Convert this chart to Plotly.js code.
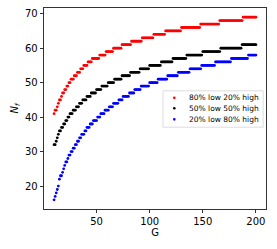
<!DOCTYPE html>
<html>
<head>
<meta charset="utf-8">
<script src="https://cdn.plot.ly/plotly-3.0.1.min.js"></script>
<style>
html,body{margin:0;padding:0;background:#fff;}
#chart{width:277px;height:249px;}
</style>
</head>
<body>
<div id="chart"></div>
<script>
// Data (step values of N_f, given as level + first G of that level)
const gLast = 200;

const seriesNames = ["80% low 20% high", "50% low 50% high", "20% low 80% high"];
const seriesColors = ["#ff0000", "#000000", "#0000ff"];

const redLevels = [41,42,43,44,45,46,47,48,49,50,51,52,53,54,55,56,57,58,59,60,61,62,63,64,65,66,67,68,69];
const redStarts = [10,11,13,14,15,17,18,20,22,24,26,29,32,35,38,42,46,53,59,66,74,83,93,104,115,130,148,166,188];

const blackLevels = [32,33,34,35,36,37,38,39,40,41,42,43,44,45,46,47,48,49,50,51,52,53,54,55,56,57,58,59,60,61];
const blackStarts = [10,12,13,14,15,17,19,21,23,25,28,31,34,37,41,45,50,55,61,67,74,82,91,100,111,122,135,150,167,187];

const blueLevels = [16,17,18,19,20,22,23,24,25,26,27,28,29,30,31,32,33,34,35,36,37,38,39,40,41,42,43,44,45,46,47,48,49,50,51,52,53,54,55,56,57,58];
const blueStarts = [10,11,12,13,14,15,16,18,19,20,21,23,24,26,28,30,32,34,36,39,41,44,47,51,54,58,62,66,71,75,81,86,92,100,108,117,127,138,149,162,177,193];

const xTicks = [50,100,150,200];
const yTicks = [20,30,40,50,60,70];

function expand(levels, starts){
  const xs = [], ys = [];
  for (let i = 0; i < levels.length; i++){
    const end = (i + 1 < starts.length) ? starts[i+1] - 1 : gLast;
    for (let g = starts[i]; g <= end; g++){ xs.push(g); ys.push(levels[i]); }
  }
  return {xs, ys};
}

const sets = [[redLevels, redStarts],[blackLevels, blackStarts],[blueLevels, blueStarts]];
const traces = sets.map((s, i) => {
  const d = expand(s[0], s[1]);
  return {
    type: 'scatter', mode: 'markers', x: d.xs, y: d.ys, name: seriesNames[i],
    marker: {color: seriesColors[i], size: 2.8, symbol: 'circle', line: {width: 0}},
    hoverinfo: 'skip', showlegend: false
  };
});

const font = {family: 'DejaVu Sans, sans-serif', size: 10, color: '#000'};
const legendFont = {family: 'DejaVu Sans, sans-serif', size: 7.5, color: '#000'};
const axisCommon = {
  showgrid: false, zeroline: false, showline: true, linecolor: '#000', linewidth: 0.8,
  mirror: true, ticks: 'outside', ticklen: 3.5, tickwidth: 0.8, tickcolor: '#000',
  tickfont: font
};

// Legend box (matplotlib style) built from shapes + annotations
const legBox = {x0: 0.536, x1: 0.987, y0: 0.407, y1: 0.588};
const legRows = [0.553, 0.501, 0.446];
const legMarkX = 0.587;
const legTextX = 0.648;

const shapes = [{
  type: 'rect', xref: 'paper', yref: 'paper',
  x0: legBox.x0, x1: legBox.x1, y0: legBox.y0, y1: legBox.y1,
  line: {color: '#d4d4d4', width: 0.8}, fillcolor: 'rgba(255,255,255,0.8)', layer: 'above'
}];
const annotations = [];
seriesNames.forEach((name, i) => {
  shapes.push({
    type: 'circle', xref: 'paper', yref: 'paper', xsizemode: 'pixel', ysizemode: 'pixel',
    xanchor: legMarkX, yanchor: legRows[i], x0: -1.3, x1: 1.3, y0: -1.3, y1: 1.3,
    fillcolor: seriesColors[i], line: {width: 0}, layer: 'above'
  });
  annotations.push({
    xref: 'paper', yref: 'paper', x: legTextX, y: legRows[i], xanchor: 'left', yanchor: 'middle',
    text: name, showarrow: false, font: legendFont, borderpad: 0
  });
});

const layout = {
  width: 277, height: 249,
  margin: {l: 44, r: 11, t: 8, b: 40, pad: 0},
  paper_bgcolor: '#fff', plot_bgcolor: '#fff',
  font: font,
  showlegend: false,
  xaxis: Object.assign({}, axisCommon, {
    range: [0.5, 209.5], tickvals: xTicks, ticktext: xTicks.map(String),
    title: {text: 'G', font: font, standoff: 2}
  }),
  yaxis: Object.assign({}, axisCommon, {
    range: [13.35, 71.65], tickvals: yTicks, ticktext: yTicks.map(String),
    title: {text: '<i>N</i><sub><i>f</i></sub>', font: font, standoff: 4}
  }),
  shapes: shapes,
  annotations: annotations
};

Plotly.newPlot('chart', traces, layout, {staticPlot: true, displayModeBar: false});
</script>
</body>
</html>
